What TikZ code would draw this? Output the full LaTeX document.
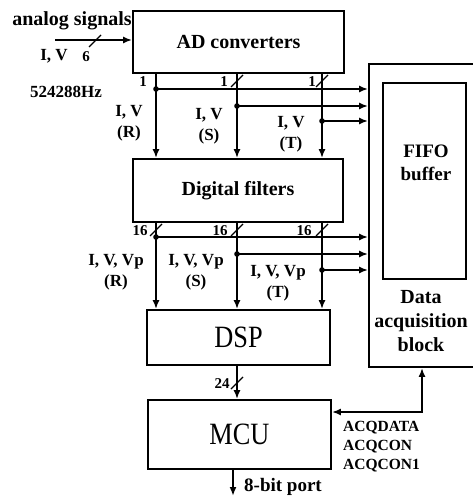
\documentclass[tikz,border=0pt]{standalone}
\usepackage{fontspec}
\setmainfont{Liberation Serif}
\newfontfamily\narrowserif{Liberation Serif}[FakeStretch=0.85]
\usetikzlibrary{arrows.meta,positioning}

\begin{document}
\begin{tikzpicture}[x=1pt, y=-1pt,
  blk/.style={draw, line width=1.8pt, inner sep=0pt,
              font=\fontsize{20}{24}\selectfont\bfseries, align=center},
  lbl/.style={inner sep=0pt, align=center,
              font=\fontsize{17}{21}\selectfont\bfseries},
  num/.style={inner sep=0pt, font=\fontsize{15}{17}\selectfont\bfseries},
  wire/.style={line width=1.8pt},
  >={Latex[length=9pt,width=7pt]}]
  \useasboundingbox (0,0) rectangle (472,497);
  % blocks
  \node[blk, minimum width=211pt, minimum height=62pt] (ad)  at (238.5,42)   {AD converters};
  \node[blk, minimum width=210pt, minimum height=63pt] (df)  at (238,190.5)  {Digital filters};
  \node[blk, minimum width=183pt, minimum height=55pt,
        font=\narrowserif\fontsize{31}{33}\selectfont] (dsp) at (238.5,337.5) {DSP};
  \node[blk, minimum width=183pt, minimum height=69pt,
        font=\narrowserif\fontsize{31}{33}\selectfont] (mcu) at (239.5,434.5) {MCU};
  \node[blk, minimum width=105pt, minimum height=303pt] (acq)  at (421.5,215.5) {};
  \node[blk, minimum width=83pt,  minimum height=196pt] (fifo) at (424.5,181)   {};
  \node[lbl, font=\fontsize{19}{23}\selectfont\bfseries] (fifotxt) at (426,163) {FIFO\\buffer};
  \node[lbl, font=\fontsize{20}{24}\selectfont\bfseries] (acqtxt)  at (421,321) {Data\\acquisition\\block};

  % lanes R, S, T
  \coordinate (xr) at (156,0);
  \coordinate (xs) at (237,0);
  \coordinate (xt) at (322,0);
  \coordinate (jr1) at (156,89);
  \coordinate (js1) at (237,106);
  \coordinate (jt1) at (322,121);
  \coordinate (jr2) at (156,237);
  \coordinate (js2) at (237,254);
  \coordinate (jt2) at (322,270);

  % analog input
  \coordinate (in) at (55,40);
  \draw[wire,->] (in) -- (in -| ad.west);

  % AD -> filters
  \foreach \l in {xr,xs,xt}
    \draw[wire,->] (ad.south -| \l) -- (df.north -| \l);
  % filters -> DSP
  \foreach \l in {xr,xs,xt}
    \draw[wire,->] (df.south -| \l) -- (dsp.north -| \l);
  % taps to the acquisition block
  \foreach \j in {jr1,js1,jt1,jr2,js2,jt2} {
    \draw[wire,->] (\j) -- (\j -| acq.west);
    \fill (\j) circle (2.8pt);
  }

  % DSP -> MCU, port, feedback
  \draw[wire,->] (dsp.south -| xs) -- (mcu.north -| xs);
  \coordinate (port) at (233,496);
  \draw[wire,->] (mcu.south -| port) -- (port);
  \coordinate (fb) at (422,412);
  \draw[wire,<->] (acq.south -| fb) -- (fb) -- (fb -| mcu.east);

  % bus width slashes
  \foreach \x/\y in {95/41,237/81,322/81,156/230,237/230,322/230,237/383}
    \draw[line width=1.3pt] ({\x-6},{\y+6}) -- ({\x+6},{\y-6});

  % bus widths
  \node[num] (n6)  at (86,57)   {6};
  \node[num] (n1r) at (143,82)  {1};
  \node[num] (n1s) at (224,82)  {1};
  \node[num] (n1t) at (312,82)  {1};
  \node[num] (n16r) at (140,231) {16};
  \node[num] (n16s) at (220,231) {16};
  \node[num] (n16t) at (304,231) {16};
  \node[num] (n24) at (222,384) {24};

  % signal labels
  \node[lbl, font=\fontsize{20}{22}\selectfont\bfseries] (analog) at (72,21) {analog signals};
  \node[lbl] (ivin) at (54,56) {I, V};
  \node[lbl, font=\fontsize{17}{19}\selectfont\bfseries] (clk) at (66,92) {524288Hz};
  \node[lbl] (ivr) at (129,123) {I, V\\(R)};
  \node[lbl] (ivs) at (209,126) {I, V\\(S)};
  \node[lbl] (ivt) at (291,134) {I, V\\(T)};
  \node[lbl] (ivpr) at (116,272.5) {I, V, Vp\\(R)};
  \node[lbl] (ivps) at (196,272.5) {I, V, Vp\\(S)};
  \node[lbl] (ivpt) at (278,283)   {I, V, Vp\\(T)};
  \node[lbl, align=left, anchor=west, font=\fontsize{15.5}{19}\selectfont\bfseries]
    (acqsig) at (343,447) {ACQDATA\\ACQCON\\ACQCON1};
  \node[lbl, anchor=west, font=\fontsize{19}{21}\selectfont\bfseries] (porttxt) at (244,487) {8-bit port};
\end{tikzpicture}
\end{document}
